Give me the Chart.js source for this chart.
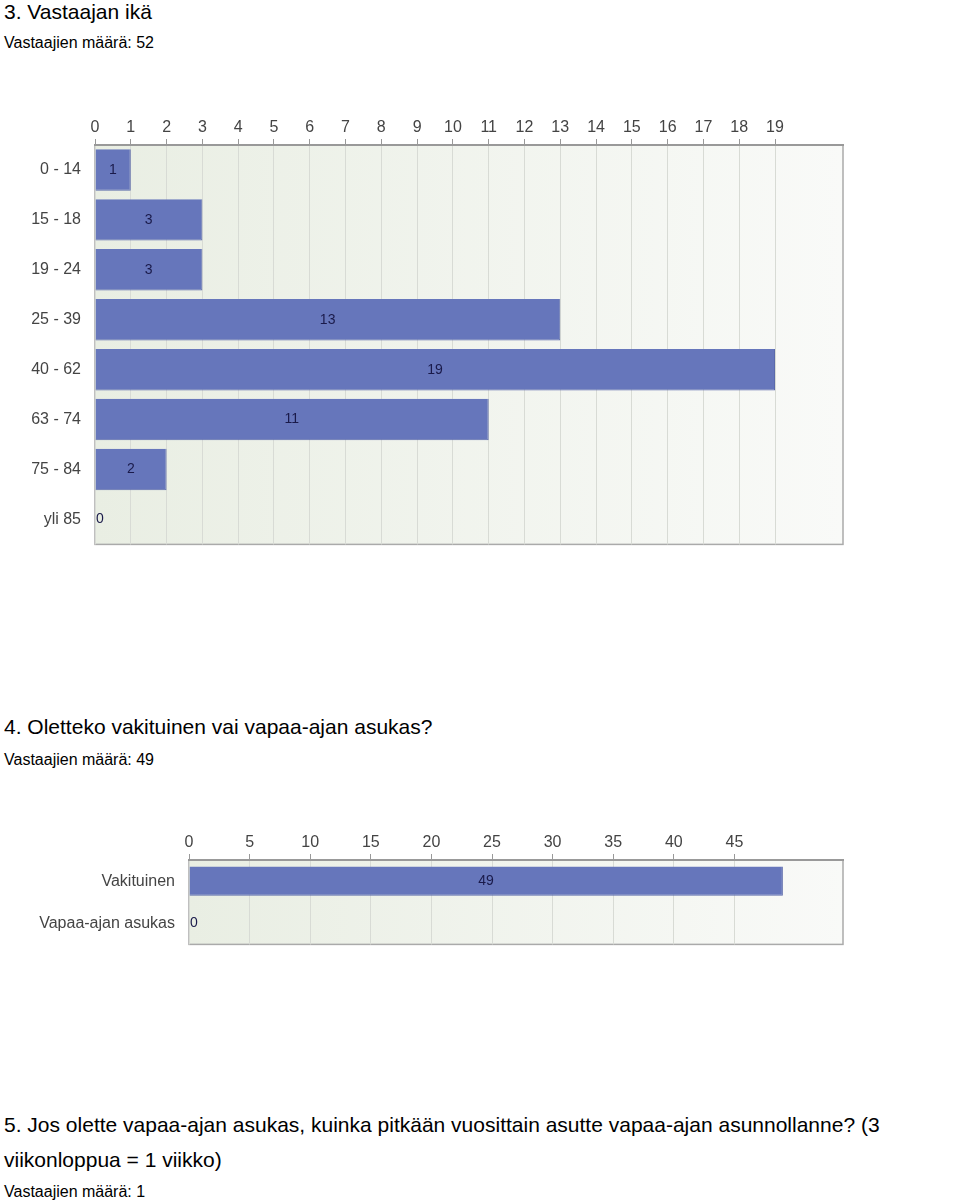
<!DOCTYPE html><html><head><meta charset="utf-8">
<script src="https://cdn.jsdelivr.net/npm/chart.js@4"></script>
<style>
body{margin:0;background:#fff;font-family:"Liberation Sans",Arial,sans-serif;color:#000;width:960px;height:1203px;position:relative;overflow:hidden}
.t{position:absolute;left:4px;font-size:21px;line-height:24px}
.s{position:absolute;left:4px;font-size:16px}
canvas{position:absolute;left:0}
</style></head><body>
<div class="t" style="top:0">3. Vastaajan ikä</div>
<div class="s" style="top:34px">Vastaajien määrä: 52</div>
<div style="position:absolute;top:100px;left:0;width:850px;height:460px"><canvas id="c1"></canvas></div>
<div class="t" style="top:715px">4. Oletteko vakituinen vai vapaa-ajan asukas?</div>
<div class="s" style="top:751px">Vastaajien määrä: 49</div>
<div style="position:absolute;top:810px;left:0;width:850px;height:150px"><canvas id="c2"></canvas></div>
<div class="t" style="top:1113px;width:960px;white-space:nowrap">5. Jos olette vapaa-ajan asukas, kuinka pitkään vuosittain asutte vapaa-ajan asunnollanne? (3</div>
<div class="t" style="top:1148px">viikonloppua = 1 viikko)</div>
<div class="s" style="top:1183px">Vastaajien määrä: 1</div>
<script>
const ageCats=["0 - 14","15 - 18","19 - 24","25 - 39","40 - 62","63 - 74","75 - 84","yli 85"];
const ageVals=[1,3,3,13,19,11,2,0];
const resCats=["Vakituinen","Vapaa-ajan asukas"];
const resVals=[49,0];
const bgPlugin={id:'bg',beforeDraw(c){const a=c.chartArea,x=c.ctx;const g=x.createLinearGradient(a.left,0,a.right,0);g.addColorStop(0,'#e9eee3');g.addColorStop(1,'#f9faf8');x.save();x.fillStyle=g;x.fillRect(a.left,a.top,a.width,a.height);x.strokeStyle='#aaa';x.lineWidth=1.5;x.strokeRect(a.left,a.top,a.width,a.height);x.restore();}};
const lblPlugin={id:'lbl',afterDatasetsDraw(c){const x=c.ctx;x.save();x.font='14px "Liberation Sans",Arial';x.fillStyle='#1a1a4a';x.textAlign='center';x.textBaseline='middle';const m=c.getDatasetMeta(0);const s=c.scales.x;m.data.forEach((b,i)=>{const v=c.data.datasets[0].data[i];const px=v===0?s.left+5:(s.left+b.x)/2;x.fillText(String(v),px,b.y);});x.restore();}};
function make(id,cats,vals,max,step,yw,xh,pb,cp){
 const ctx=document.getElementById(id).getContext('2d');
 return new Chart(ctx,{type:'bar',data:{labels:cats,datasets:[{data:vals,
  backgroundColor:(c)=>{const a=c.chart.chartArea;if(!a)return '#7b8ad6';const el=c.element;const bh=38;const y=el&&el.y?el.y:0;const g=c.chart.ctx.createLinearGradient(0,y-bh/2,0,y+bh/2);g.addColorStop(0,'#8c9ce6');g.addColorStop(1,'#6676bb');return g;},
  borderColor:'#5b6aaa',borderWidth:{top:0,bottom:1,left:0,right:1},borderSkipped:false,categoryPercentage:cp,barPercentage:1}]},
 options:{indexAxis:'y',responsive:true,maintainAspectRatio:false,animation:false,
  layout:{padding:{right:7,bottom:pb,top:0,left:0}},
  plugins:{legend:{display:false},tooltip:{enabled:false}},
  scales:{x:{position:'top',min:0,max:max,afterBuildTicks(s){s.ticks=s.ticks.filter(t=>Math.abs(t.value/step-Math.round(t.value/step))<1e-6);},ticks:{stepSize:step,color:'#444',font:{size:16,family:'"Liberation Sans",Arial'},padding:2},
    grid:{color:'#d8dbd5',tickLength:6,tickColor:'#999'},border:{color:'#999',width:2},afterFit(s){s.height=xh;}},
   y:{ticks:{color:'#444',font:{size:16,family:'"Liberation Sans",Arial'},padding:6},grid:{display:false},border:{display:false},afterFit(s){s.width=yw;}}}},
 plugins:[bgPlugin,lblPlugin]});
}
make('c1',ageCats,ageVals,20.9,1,95,45,4,0.83);
make('c2',resCats,resVals,53.96,5,189,50,7,0.69);
</script></body></html>
